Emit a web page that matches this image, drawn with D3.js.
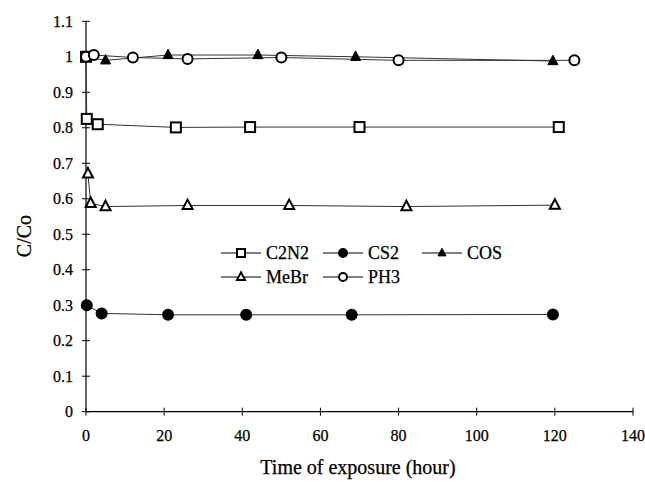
<!DOCTYPE html>
<html>
<head>
<meta charset="utf-8">
<script src="https://cdn.jsdelivr.net/npm/d3@7"></script>
<style>
  body { margin: 0; background: #fff; }
  svg text { font-family: "Liberation Serif", "Times New Roman", serif; fill: #000; stroke: #000; stroke-width: 0.25px; }
</style>
</head>
<body>
<div id="chart"></div>
<script>
// values
const xTicks = [0, 20, 40, 60, 80, 100, 120, 140];
const yTicks = [0, 0.1, 0.2, 0.3, 0.4, 0.5, 0.6, 0.7, 0.8, 0.9, 1, 1.1];

const c2n2 = [[0, 1], [0.2, 0.825], [3, 0.81], [23, 0.801], [42, 0.802], [70, 0.802], [121, 0.802]];
const cs2  = [[0.2, 0.3], [4, 0.277], [21, 0.273], [41, 0.273], [68, 0.273], [119.5, 0.274]];
const cos  = [[0, 1], [5, 0.99], [21, 1.005], [44, 1.005], [69, 1.0], [119.5, 0.988]];
const mebr = [[0.5, 0.67], [1.2, 0.587], [5, 0.578], [26, 0.581], [52, 0.581], [82, 0.578], [120, 0.582]];
const ph3  = [[0, 1], [2, 1.005], [12, 0.998], [26, 0.994], [50, 0.998], [80, 0.99], [125, 0.99]];

const series = [
    {name: "C2N2", data: c2n2, shape: "square",   fill: "#fff"},
    {name: "CS2",  data: cs2,  shape: "circle",   fill: "#000"},
    {name: "COS",  data: cos,  shape: "triangle", fill: "#000"},
    {name: "MeBr", data: mebr, shape: "triangle", fill: "#fff"},
    {name: "PH3",  data: ph3,  shape: "circle",   fill: "#fff"}
];

const width = 645, height = 489;
const margin = {top: 21, right: 12, bottom: 77, left: 86};

const svg = d3.select("#chart").append("svg")
    .attr("width", width)
    .attr("height", height);

const x = d3.scaleLinear().domain([0, 140]).range([margin.left, 633]);
const y = d3.scaleLinear().domain([0, 1.1]).range([411.7, 21.3]);

// marker drawing
function marker(sel, shape, fill, s) {
    if (shape == "square") {
        sel.append("rect")
            .attr("x", -s / 2).attr("y", -s / 2)
            .attr("width", s).attr("height", s)
            .attr("fill", fill).attr("stroke", "#000").attr("stroke-width", 2);
    } else if (shape == "circle") {
        sel.append("circle")
            .attr("r", s / 2)
            .attr("fill", fill).attr("stroke", "#000").attr("stroke-width", 2);
    } else {
        const h = s * 0.95;
        sel.append("path")
            .attr("d", "M0," + (-h * 0.62) + "L" + (s / 2) + "," + (h * 0.38) + "L" + (-s / 2) + "," + (h * 0.38) + "Z")
            .attr("fill", fill).attr("stroke", "#000").attr("stroke-width", fill == "#000" ? 1 : 2)
            .attr("stroke-linejoin", "miter");
    }
}

// axes
const yAxis = svg.append("g");
yAxis.append("line")
    .attr("x1", x(0)).attr("x2", x(0))
    .attr("y1", y(0)).attr("y2", y(1.1))
    .attr("stroke", "#000").attr("stroke-width", 1.2);
yAxis.selectAll(".tick")
    .data(yTicks)
    .enter().append("line")
    .attr("x1", x(0) - 4).attr("x2", x(0) + 4)
    .attr("y1", d => y(d)).attr("y2", d => y(d))
    .attr("stroke", "#000");
yAxis.selectAll("text")
    .data(yTicks)
    .enter().append("text")
    .attr("x", 73)
    .attr("y", d => y(d) + 5.5)
    .attr("text-anchor", "end")
    .attr("font-size", 16)
    .text(d => d3.format("~g")(+d.toFixed(1)));

const xAxis = svg.append("g");
xAxis.append("line")
    .attr("x1", x(0)).attr("x2", x(140))
    .attr("y1", y(0)).attr("y2", y(0))
    .attr("stroke", "#000").attr("stroke-width", 1.2);
xAxis.selectAll(".tick")
    .data(xTicks)
    .enter().append("line")
    .attr("x1", d => x(d)).attr("x2", d => x(d))
    .attr("y1", y(0) - 4).attr("y2", y(0) + 4)
    .attr("stroke", "#000");
xAxis.selectAll("text")
    .data(xTicks)
    .enter().append("text")
    .attr("x", d => x(d))
    .attr("y", 441)
    .attr("text-anchor", "middle")
    .attr("font-size", 16)
    .text(d => d);

svg.append("text")
    .attr("x", 358).attr("y", 474)
    .attr("text-anchor", "middle")
    .attr("font-size", 20)
    .text("Time of exposure (hour)");

svg.append("text")
    .attr("transform", "translate(31,236) rotate(-90)")
    .attr("text-anchor", "middle")
    .attr("font-size", 20)
    .text("C/Co");

// series lines and markers
const line = d3.line().x(d => x(d[0])).y(d => y(d[1]));

series.forEach(function(s) {
    svg.append("path")
        .attr("d", line(s.data))
        .attr("fill", "none")
        .attr("stroke", "#333")
        .attr("stroke-width", 1);
});
series.forEach(function(s) {
    svg.append("g").selectAll("g")
        .data(s.data)
        .enter().append("g")
        .attr("transform", d => "translate(" + x(d[0]) + "," + y(d[1]) + ")")
        .each(function() { marker(d3.select(this), s.shape, s.fill, s.shape == "circle" && s.fill == "#000" ? 10 : 10); });
});

// legend
const legendPos = [
    {name: "C2N2", lx: 221, ly: 253},
    {name: "CS2",  lx: 323, ly: 253},
    {name: "COS",  lx: 422, ly: 253},
    {name: "MeBr", lx: 221, ly: 277},
    {name: "PH3",  lx: 323, ly: 277}
];
legendPos.forEach(function(p) {
    const s = series.find(d => d.name == p.name);
    const g = svg.append("g").attr("transform", "translate(" + p.lx + "," + p.ly + ")");
    g.append("line").attr("x1", 0).attr("x2", 40).attr("y1", 0).attr("y2", 0)
        .attr("stroke", "#000").attr("stroke-width", 1);
    const m = g.append("g").attr("transform", "translate(20,0)");
    marker(m, s.shape, s.fill, 8);
    g.append("text")
        .attr("x", 45).attr("y", 6)
        .attr("font-size", 18)
        .text(s.name);
});
</script>
</body>
</html>
